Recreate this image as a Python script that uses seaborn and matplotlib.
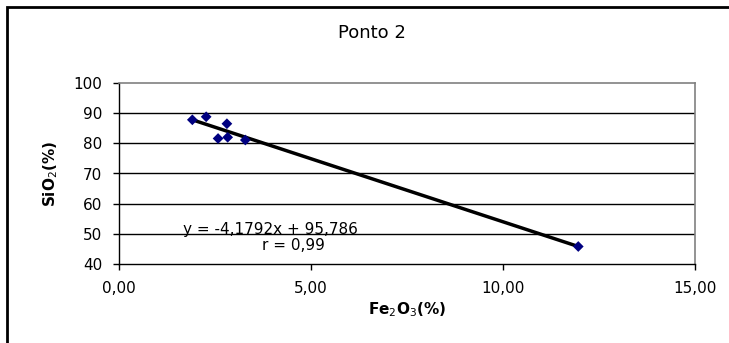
import numpy as np
import matplotlib
matplotlib.use("Agg")
import matplotlib.pyplot as plt
import seaborn as sns
from matplotlib.patches import Rectangle

# dados
fe2o3 = [1.91, 2.27, 2.81, 2.58, 2.83, 3.29, 11.96]
sio2 = [87.8, 88.8, 86.5, 81.6, 82.0, 81.1, 45.8]
slope = -4.1792
intercept = 95.786
r_value = 0.99

x_ticks = [0, 5, 10, 15]
y_ticks = [40, 50, 60, 70, 80, 90, 100]

sns.set_style("white")
plt.rcParams['font.family'] = ['DejaVu Sans']
plt.rcParams['text.color'] = 'black'
plt.rcParams['axes.labelcolor'] = 'black'
plt.rcParams['xtick.color'] = 'black'
plt.rcParams['ytick.color'] = 'black'

fig = plt.figure(figsize=(7.29, 3.43), dpi=100)
ax = fig.add_axes([119 / 729, 1 - 264 / 343, (695 - 119) / 729, (264 - 83) / 343])

# moldura externa
fig.patches.append(Rectangle((7 / 729, -0.1), 1.2, 1 - 7 / 343 + 0.1, transform=fig.transFigure,
                             fill=False, edgecolor='black', linewidth=2, zorder=0))

for yt in y_ticks[1:-1]:
    ax.axhline(yt, color='black', linewidth=1, zorder=1)

xs = np.array([min(fe2o3), max(fe2o3)])
sns.lineplot(x=xs, y=slope * xs + intercept, color='black', linewidth=2.5, ax=ax, zorder=2)
sns.scatterplot(x=fe2o3, y=sio2, marker='D', color='#000080', s=30, edgecolor='none', ax=ax, zorder=3)

ax.set_xlim(0, 15)
ax.set_ylim(40, 100)
ax.set_xticks(x_ticks)
ax.set_yticks(y_ticks)
ax.set_xticklabels(["{:.2f}".format(v).replace('.', ',') for v in x_ticks], fontsize=11)
ax.set_yticklabels([str(v) for v in y_ticks], fontsize=11)
ax.tick_params(axis='both', direction='out', length=4, width=1, color='black', labelcolor='black', pad=8)
ax.xaxis.set_ticks_position('bottom')
ax.yaxis.set_ticks_position('left')

for side in ['top', 'right']:
    ax.spines[side].set_color('#808080')
    ax.spines[side].set_linewidth(1.2)
for side in ['left', 'bottom']:
    ax.spines[side].set_color('black')
    ax.spines[side].set_linewidth(1)

ax.set_xlabel("Fe$_2$O$_3$(%)", fontsize=11, fontweight='bold', labelpad=3, color='black')
ax.set_ylabel("SiO$_2$(%)", fontsize=11, fontweight='bold', labelpad=10, color='black')
fig.text(0.51, 1 - 33 / 343, "Ponto 2", ha='center', va='center', fontsize=13, color='black')

ax.text(1.66, 51.5, "y = {}x + {}".format(str(slope).replace('.', ','), str(intercept).replace('.', ',')),
        fontsize=11, ha='left', va='center', color='black')
ax.text(3.72, 46.0, "r = {}".format(str(r_value).replace('.', ',')), fontsize=11, ha='left', va='center',
        color='black')

fig.savefig("out.png", dpi=100)
